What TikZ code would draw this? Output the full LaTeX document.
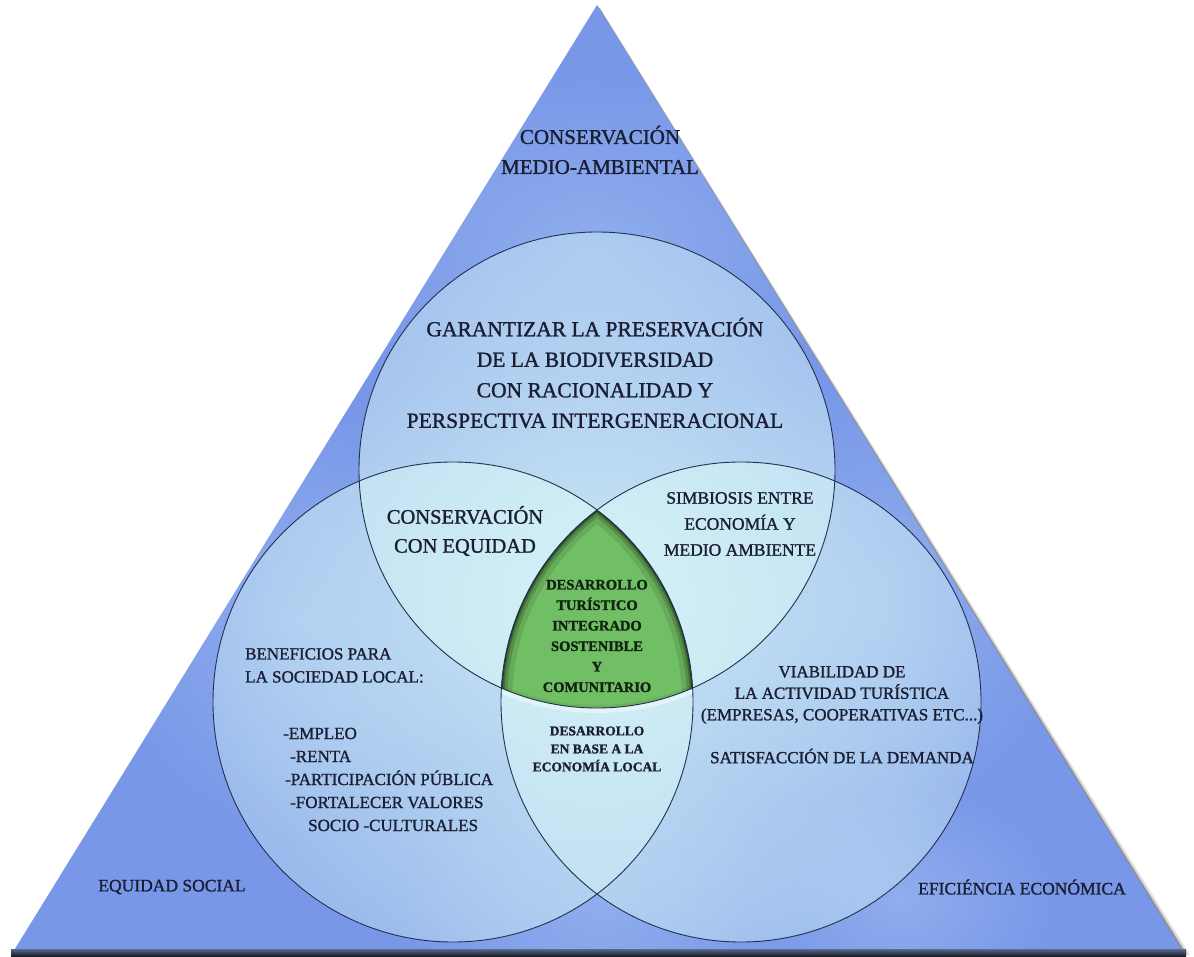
\documentclass[tikz,border=0pt]{standalone}
\usepackage{fontspec}
\setmainfont{Liberation Serif}[FakeBold=1.3]
\newfontfamily\semib{Liberation Serif}[FakeBold=1.3]
\usetikzlibrary{fadings}
\tikzfading[name=softglow, inner color=transparent!0, outer color=transparent!100]
\definecolor{tri}{HTML}{7897E8}
\definecolor{trilight}{HTML}{A4C2F2}
\definecolor{glow}{HTML}{D4F2F6}
\definecolor{circ}{HTML}{B4D8F3}
\definecolor{grn}{HTML}{71BF64}
\definecolor{txt}{HTML}{1A1E33}
\definecolor{gtxt}{HTML}{122312}
\definecolor{ring}{HTML}{23304F}
\definecolor{bartop}{HTML}{5A6A8C}
\definecolor{barbot}{HTML}{0E121C}
\tikzset{
  lbl/.style={text=txt, inner sep=0pt, align=center},
  lleft/.style={text=txt, inner sep=0pt, anchor=base west},
  ringline/.style={draw=ring, line width=0.9pt},
  blob/.style={fill=trilight, path fading=softglow, fill opacity=0.55},
  glowfill/.style={fill=glow, path fading=softglow, fill opacity=0.9},
}
\begin{document}
\begin{tikzpicture}[x=1pt,y=-1pt]
\useasboundingbox (0,0) rectangle (1194,957);
\fill[white] (0,0) rectangle (1194,957);

\coordinate (A) at (597,5);
\coordinate (BL) at (13,952);
\coordinate (BR) at (1183,952);

% soft shadow on the right side
\fill[black, opacity=0.12] (600,8) -- (1190,955) -- (16,955) -- cycle;
\fill[black, opacity=0.18] (599,7) -- (1187,954) -- (15,954) -- cycle;
\fill[black, opacity=0.25] (598,6) -- (1185,953) -- (14,953) -- cycle;

% triangle body
\fill[tri] (A) -- (BR) -- (BL) -- cycle;
\begin{scope}
  \clip (A) -- (BR) -- (BL) -- cycle;
  \fill[blob] (590,250) ellipse (260 and 180);
  \fill[blob] (600,900) ellipse (200 and 160);
  \fill[blob] (900,900) ellipse (160 and 120);
  \fill[blob] (300,620) ellipse (200 and 220);
  \fill[blob] (880,600) ellipse (200 and 220);
  % circles, each with a central glow
  \begin{scope}
    \clip (597,470) circle (238);
    \fill[circ, fill opacity=0.14] (597,470) circle (238);
    \fill[glowfill] (597,600) circle (640);
  \end{scope}
  \begin{scope}
    \clip (453,702) circle (240);
    \fill[circ, fill opacity=0.14] (453,702) circle (240);
    \fill[glowfill] (597,600) circle (640);
  \end{scope}
  \begin{scope}
    \clip (741,702) circle (240);
    \fill[circ, fill opacity=0.14] (741,702) circle (240);
    \fill[glowfill] (597,600) circle (640);
  \end{scope}
  % light glow under the green region
  \begin{scope}
    \clip (453,702) circle (240);
    \clip (741,702) circle (240);
    \draw[white, opacity=0.45, line width=10pt] (597,470) circle (238);
  \end{scope}
\end{scope}

% green centre: intersection of the three circles
\begin{scope}
  \clip (597,470) circle (238);
  \clip (453,702) circle (240);
  \clip (741,702) circle (240);
  \fill[grn] (400,400) rectangle (800,800);
  \draw[black, opacity=0.10, line width=22pt] (453,702) circle (240) (741,702) circle (240);
  \draw[black, opacity=0.16, line width=12pt] (453,702) circle (240) (741,702) circle (240);
  \draw[black, opacity=0.24, line width=6pt] (453,702) circle (240) (741,702) circle (240);
  \draw[black, opacity=0.38, line width=2.5pt] (453,702) circle (240) (741,702) circle (240);
  \draw[black, opacity=0.06, line width=6pt] (597,470) circle (238);
\end{scope}

% circle outlines
\draw[ringline] (597,470) circle (238);
\draw[ringline] (453,702) circle (240);
\draw[ringline] (741,702) circle (240);

% dark base bar
\shade[top color=bartop, bottom color=barbot] (11,949) rectangle (1186,957);

% texts
\node[lbl, font=\fontsize{21}{30}\selectfont] (conserv) at (600,150) {CONSERVACIÓN\\MEDIO-AMBIENTAL};
\node[lbl, font=\fontsize{21.5}{30.5}\selectfont] (garant) at (595,373) {GARANTIZAR LA PRESERVACIÓN\\DE LA BIODIVERSIDAD\\CON RACIONALIDAD Y\\PERSPECTIVA INTERGENERACIONAL};
\node[lbl, font=\fontsize{20.5}{29}\selectfont] (equid) at (465,531) {CONSERVACIÓN\\CON EQUIDAD};
\node[lbl, font=\fontsize{17.5}{26}\selectfont] (simb) at (740,524) {SIMBIOSIS ENTRE\\ECONOMÍA Y\\MEDIO AMBIENTE};
\node[lbl, text=gtxt, font=\bfseries\fontsize{14.5}{20.5}\selectfont] (dtis) at (597,636) {DESARROLLO\\TURÍSTICO\\INTEGRADO\\SOSTENIBLE\\Y\\COMUNITARIO};
\node[lbl, font=\bfseries\fontsize{13.5}{18}\selectfont] (dbase) at (597,749) {DESARROLLO\\EN BASE A LA\\ECONOMÍA LOCAL};
\node[lbl, align=left, anchor=north west, font=\fontsize{17}{23}\selectfont] (benef) at (245,648) {BENEFICIOS PARA\\LA SOCIEDAD LOCAL:};
\node[lleft, font=\fontsize{17}{23}\selectfont] (empleo) at (283,739) {-EMPLEO};
\node[lleft, font=\fontsize{17}{23}\selectfont] (renta) at (290,762) {-RENTA};
\node[lleft, font=\fontsize{17}{23}\selectfont] (partic) at (285,785) {-PARTICIPACIÓN PÚBLICA};
\node[lleft, font=\fontsize{17}{23}\selectfont] (fortal) at (290,808) {-FORTALECER VALORES};
\node[lleft, font=\fontsize{17}{23}\selectfont] (socio) at (308,831) {SOCIO -CULTURALES};
\node[lbl, font=\fontsize{17}{21.5}\selectfont] (viab) at (842,695) {VIABILIDAD DE\\LA ACTIVIDAD TURÍSTICA\\(EMPRESAS, COOPERATIVAS ETC...)};
\node[lbl, font=\fontsize{17}{21.5}\selectfont] (satis) at (842,756) {SATISFACCIÓN DE LA DEMANDA};
\node[lbl, font=\fontsize{17.5}{21}\selectfont] (eqsoc) at (172,887) {EQUIDAD SOCIAL};
\node[lbl, font=\fontsize{17.5}{21}\selectfont] (efic) at (1022,887) {EFICIÉNCIA ECONÓMICA};
\end{tikzpicture}
\end{document}
